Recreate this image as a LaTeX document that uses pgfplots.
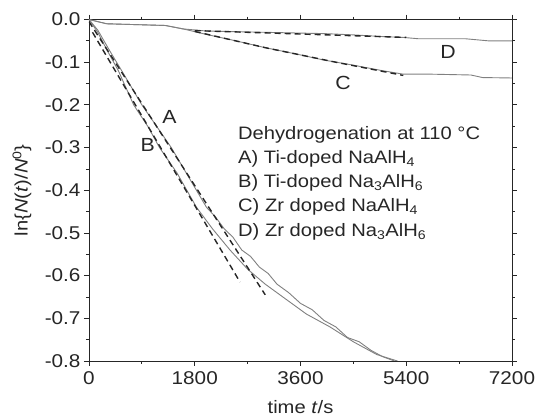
\documentclass[border=0pt]{standalone}
\usepackage{fontspec}
\setmainfont[FakeStretch=1.12]{Liberation Sans}
\usepackage{pgfplots}
\pgfplotsset{compat=1.18}
\begin{document}
\begin{tikzpicture}
\useasboundingbox (-89bp,-59bp) rectangle (449bp,361bp);
\begin{axis}[
  scale only axis, width=423bp, height=341.5bp,
  xmin=0, xmax=7200, ymin=-0.8, ymax=0,
  xtick={0,1800,3600,5400,7200}, minor x tick num=1,
  ytick={-0.8,-0.7,-0.6,-0.5,-0.4,-0.3,-0.2,-0.1,0}, minor y tick num=1,
  tick align=outside, tick pos=both,
  major tick length=5bp, minor tick length=3bp,
  axis line style={line width=0.8bp, black!85},
  every tick/.style={black!85, line width=0.8bp},
  ticklabel style={font=\fontsize{18.5bp}{21bp}\selectfont, text=black!85},
  /pgf/number format/assume math mode=true,
  xticklabel style={/pgf/number format/1000 sep={}, yshift=-2bp},
  yticklabel style={/pgf/number format/.cd, fixed, fixed zerofill, precision=1},
  xlabel={time \textit{t}/s},
  ylabel={ln\{\textit{N}(\textit{t})/\textit{N}\textsuperscript{0}\}},
  label style={font=\fontsize{18bp}{21bp}\selectfont, text=black!85},
  xlabel style={at={(axis description cs:0.5,-0.1347)}, anchor=center},
  ylabel style={at={(axis description cs:-0.1584,0.5)}, anchor=center},
]
% A solid
\addplot[black!50, line width=0.9bp] coordinates {
(0,0) (150,-0.025) (360,-0.075) (600,-0.13) (900,-0.2) (1150,-0.25) (1400,-0.3)
(1700,-0.37) (2000,-0.44) (2150,-0.462) (2300,-0.49) (2450,-0.51) (2600,-0.54)
(2750,-0.555) (2900,-0.58) (3050,-0.595) (3200,-0.62) (3400,-0.64) (3600,-0.665)
(3800,-0.68) (4000,-0.705) (4200,-0.72) (4400,-0.745) (4600,-0.755) (4800,-0.775)
(5000,-0.79) (5200,-0.80)};
% B solid
\addplot[black!50, line width=0.9bp] coordinates {
(0,0) (150,-0.03) (300,-0.07) (500,-0.12) (760,-0.2) (1000,-0.25) (1200,-0.3)
(1500,-0.36) (1830,-0.44) (2100,-0.49) (2400,-0.54) (2700,-0.585) (3000,-0.62)
(3300,-0.65) (3700,-0.69) (4100,-0.72) (4500,-0.755) (4900,-0.785) (5250,-0.80)};
% C solid
\addplot[black!50, line width=0.9bp] coordinates {
(0,0) (300,-0.01) (1300,-0.014) (1600,-0.022) (2000,-0.035) (2500,-0.05) (3000,-0.066)
(3500,-0.08) (4000,-0.095) (4500,-0.107) (5000,-0.12) (5350,-0.128) (5800,-0.128)
(6500,-0.13) (6700,-0.136) (7200,-0.137)};
% D solid
\addplot[black!50, line width=0.9bp] coordinates {
(0,0) (300,-0.01) (1300,-0.014) (1600,-0.022) (2000,-0.027) (3000,-0.03) (4000,-0.033)
(4500,-0.036) (5000,-0.04) (5350,-0.042) (5600,-0.045) (6400,-0.045) (6800,-0.05) (7200,-0.05)};
% fits
\addplot[black!85, line width=1.4bp, dash pattern=on 6bp off 4bp] coordinates {(60,-0.03) (2570,-0.615)};
\addplot[black!85, line width=1.4bp, dash pattern=on 6bp off 4bp] coordinates {(0,-0.005) (3000,-0.645)};
\addplot[black!85, line width=1.4bp, dash pattern=on 6bp off 4bp] coordinates {(1800,-0.028) (3000,-0.066) (4200,-0.1) (5350,-0.131)};
\addplot[black!85, line width=1.4bp, dash pattern=on 6bp off 4bp] coordinates {(1800,-0.026) (5400,-0.042)};
% curve labels
\node[font=\fontsize{19bp}{22bp}\selectfont, text=black!85] at (axis cs:1370,-0.228) {A};
\node[font=\fontsize{19bp}{22bp}\selectfont, text=black!85] at (axis cs:1000,-0.295) {B};
\node[font=\fontsize{19bp}{22bp}\selectfont, text=black!85] at (axis cs:4325,-0.149) {C};
\node[font=\fontsize{19bp}{22bp}\selectfont, text=black!85] at (axis cs:6110,-0.076) {D};
% text block
\begin{scope}[every node/.style={anchor=west, inner sep=0pt, font=\fontsize{18bp}{21bp}\selectfont, text=black!85}]
\node at (axis cs:2536,-0.270) {Dehydrogenation at 110 °C};
\node at (axis cs:2536,-0.327) {A) Ti-doped NaAlH\textsubscript{4}};
\node at (axis cs:2536,-0.383) {B) Ti-doped Na\textsubscript{3}AlH\textsubscript{6}};
\node at (axis cs:2536,-0.440) {C) Zr doped NaAlH\textsubscript{4}};
\node at (axis cs:2536,-0.497) {D) Zr doped Na\textsubscript{3}AlH\textsubscript{6}};
\end{scope}
\end{axis}
\end{tikzpicture}
\end{document}
